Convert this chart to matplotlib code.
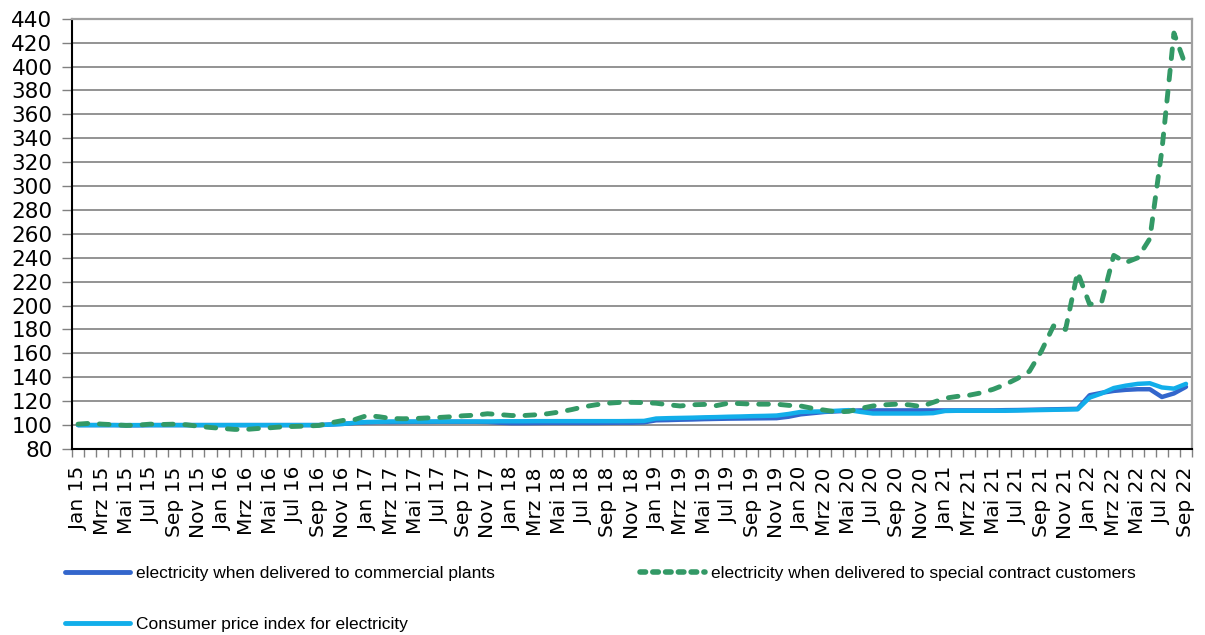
import matplotlib
matplotlib.use('Agg')
import matplotlib.pyplot as plt
from matplotlib.lines import Line2D
from matplotlib.ticker import FixedLocator, MultipleLocator

month_abbr = ['Jan', 'Feb', 'Mrz', 'Apr', 'Mai', 'Jun', 'Jul', 'Aug', 'Sep', 'Okt', 'Nov', 'Dez']
years = ['15', '16', '17', '18', '19', '20', '21', '22']
categories = [f'{m} {y}' for y in years for m in month_abbr][:93]

commercial = [
    100, 100, 100, 100, 99.8, 99.8, 100, 100, 100, 100, 100, 100,
    100, 100, 100, 100, 100, 100, 100, 100, 100, 100.5, 101, 101.8,
    102.3, 102.5, 102.5, 102.6, 102.7, 102.7, 102.8, 102.8, 102.8, 102.8, 102.6, 102,
    101.6, 101.6, 101.7, 101.8, 101.8, 101.8, 101.8, 101.8, 101.9, 102, 102, 102.3,
    104, 104.2, 104.5, 104.7, 105, 105.2, 105.4, 105.5, 105.6, 105.7, 105.8, 107,
    109, 110, 111, 111.5, 112, 112.3, 112.3, 112.3, 112.3, 112.3, 112.3, 112.3,
    112.3, 112.3, 112.3, 112.3, 112.3, 112.5, 112.6, 112.8, 113, 113.2, 113.4, 113.6,
    125, 127, 128.6, 129.5, 130, 130, 123.5, 126.5, 132,
]

special = [
    100.8, 101.5, 100.8, 100.3, 99.7, 100, 100.8, 100.5, 100.8, 100.3, 99, 98,
    97.2, 96.4, 96.4, 97.2, 97.8, 98.6, 98.9, 99.2, 99.7, 101.9, 103.9, 104.7,
    108, 107, 105.5, 105.3, 105.5, 106, 106.4, 107, 107.8, 108.3, 109.5, 108.8,
    108, 108, 108.6, 109.5, 111, 113, 115.3, 117, 118.3, 119, 119, 118.8,
    118.3, 117, 116, 117, 117.3, 116.3, 118.3, 118, 117.5, 117.5, 117.5, 116.5,
    116, 114, 112.5, 111, 111.5, 114, 116, 117, 117.5, 117, 115.5, 119,
    122.5, 124, 125, 127, 130, 134, 139, 145, 162, 183, 180, 228,
    201, 203, 242, 236, 240, 256, 330, 428, 400,
]

cpi = [
    100, 100, 100, 100, 100, 100, 100, 100, 100, 100, 100, 100,
    100, 100, 100, 100, 100, 100, 100, 100, 100, 100.5, 101, 102,
    102.6, 102.8, 103, 103, 103, 103, 103, 103, 103, 103, 103, 103.2,
    103.2, 103.2, 103.3, 103.3, 103.3, 103.3, 103.3, 103.3, 103.3, 103.3, 103.4, 103.5,
    105.5, 105.8, 106, 106.2, 106.5, 106.7, 107, 107.2, 107.5, 107.7, 108, 109.3,
    111, 111.3, 111.5, 112, 112.5, 111, 109.7, 109.7, 109.7, 109.7, 109.7, 110,
    111.8, 112, 112, 112, 112, 112, 112.2, 112.4, 112.6, 112.8, 113, 113.2,
    123, 126.5, 131, 133, 134.5, 135, 131.5, 130.5, 134.5,
]

labels = {
    'commercial': 'electricity when delivered to commercial plants',
    'special': 'electricity when delivered to special contract customers',
    'cpi': 'Consumer price index for electricity',
}

c_dark = '#3366CC'
c_light = '#12AEEA'
c_green = '#339966'

fig = plt.figure(figsize=(12.05, 6.35), dpi=100)
ax = fig.add_axes([72 / 1205, 1 - 449 / 635, 1120 / 1205, (449 - 18.7) / 635])

x = list(range(len(categories)))
l1, = ax.plot(x, commercial, color=c_dark, lw=3.2, solid_capstyle='round', solid_joinstyle='round', zorder=3)
l3, = ax.plot(x, cpi, color=c_light, lw=3.2, solid_capstyle='round', solid_joinstyle='round', zorder=4)
l2, = ax.plot(x, special, color=c_green, lw=3.5, linestyle=(0, (2.0, 2.4)),
              dash_capstyle='round', dash_joinstyle='round', zorder=5)

ax.set_xlim(-0.5, len(categories) - 0.5)
ax.set_ylim(80, 440)
ax.yaxis.set_major_locator(MultipleLocator(20))
ax.grid(axis='y', color='#808080', lw=1.2)
ax.set_axisbelow(True)

ax.xaxis.set_major_locator(FixedLocator(x[::2]))
ax.set_xticklabels(categories[::2], rotation=90, fontsize=14.5, family='DejaVu Sans')
ax.xaxis.set_minor_locator(FixedLocator([i - 0.5 for i in range(len(categories) + 1)]))
ax.tick_params(axis='x', which='major', length=0, pad=13)
ax.tick_params(axis='x', which='minor', length=6, width=1, color='#808080', direction='out')
ax.tick_params(axis='y', which='major', length=7, width=1, color='#808080', labelsize=15.5, pad=7)

for side in ['left', 'bottom']:
    ax.spines[side].set_color('#000000')
    ax.spines[side].set_linewidth(1.5)
for side in ['top', 'right']:
    ax.spines[side].set_color('#a0a0a0')
    ax.spines[side].set_linewidth(1.6)

leg_font = {'family': ['Liberation Sans', 'DejaVu Sans'], 'size': 12.5}
h_dark = Line2D([], [], color=c_dark, lw=3.5, solid_capstyle='round')
h_light = Line2D([], [], color=c_light, lw=3.5, solid_capstyle='round')
h_green = Line2D([], [], color=c_green, lw=4, linestyle=(0, (1.0, 1.3)), dash_capstyle='round')

leg1 = fig.legend([h_dark, h_light], [labels['commercial'], labels['cpi']],
                  loc='upper left', bbox_to_anchor=(65 / 1205, 1 - 566 / 635),
                  frameon=False, prop=leg_font, handlelength=3.75, handletextpad=0.35,
                  labelspacing=2.05, borderpad=0, borderaxespad=0)
leg2 = fig.legend([h_green], [labels['special']],
                  loc='upper left', bbox_to_anchor=(640 / 1205, 1 - 566 / 635),
                  frameon=False, prop=leg_font, handlelength=3.75, handletextpad=0.35,
                  borderpad=0, borderaxespad=0)

fig.savefig('out.png', dpi=100)
